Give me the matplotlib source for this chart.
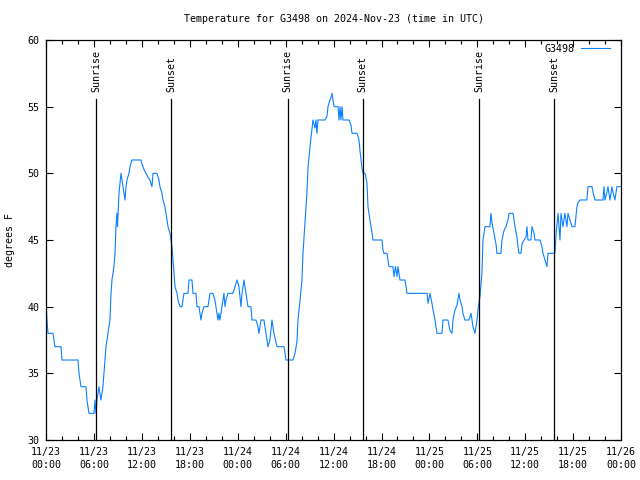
import matplotlib
matplotlib.use('Agg')
from matplotlib import pyplot as plt
import matplotlib.dates as mdates
import pandas as pd

# readings: hours after 2024-11-23 00:00 UTC, temperature in F
hours = [0.0, 0.09, 0.21, 0.84, 1.09, 1.84, 1.97, 3.97, 4.10, 4.35, 4.97, 5.10, 5.35, 5.98,
         6.10, 6.23, 6.35, 6.60, 6.85, 7.10, 7.23, 7.36, 7.48, 7.73, 7.98, 8.11, 8.23, 8.48,
         8.61, 8.73, 8.86, 8.92, 9.11, 9.36, 9.61, 9.73, 9.86, 9.99, 10.11, 10.36, 10.49,
         10.74, 11.86, 11.99, 12.24, 12.49, 12.74, 12.99, 13.12, 13.24, 13.37, 13.87, 14.12,
         14.24, 14.49, 14.62, 14.87, 15.12, 15.25, 15.50, 15.62, 15.75, 15.88, 16.00, 16.13,
         16.38, 16.50, 16.75, 17.00, 17.13, 17.25, 17.75, 17.88, 18.25, 18.38, 18.75, 18.88,
         19.13, 19.26, 19.38, 19.51, 19.76, 20.26, 20.51, 20.88, 21.13, 21.26, 21.51, 21.63,
         21.76, 22.01, 22.26, 22.39, 22.51, 22.76, 23.39, 23.64, 23.89, 24.14, 24.39, 24.52,
         24.77, 25.02, 25.27, 25.64, 25.77, 26.27, 26.52, 26.64, 26.77, 26.90, 27.27, 27.52,
         27.77, 28.02, 28.27, 28.52, 28.90, 29.78, 30.03, 30.91, 31.16, 31.41, 31.53, 31.78,
         32.03, 32.16, 32.41, 32.66, 32.79, 33.04, 33.29, 33.41, 33.66, 33.79, 33.91, 34.04,
         34.92, 35.17, 35.29, 35.48, 35.67, 35.80, 35.92, 36.05, 36.55, 36.67, 36.80, 36.92,
         37.05, 37.17, 37.93, 38.18, 38.30, 38.93, 39.18, 39.30, 39.55, 39.68, 39.93, 40.18,
         40.30, 40.55, 40.74, 40.93, 42.06, 42.18, 42.31, 42.68, 42.81, 42.93, 43.43, 43.56,
         43.75, 43.94, 44.06, 44.19, 44.31, 44.94, 45.19, 47.70, 47.82, 48.07, 48.32, 48.45,
         48.70, 48.95, 49.57, 49.70, 50.32, 50.58, 50.83, 50.95, 51.20, 51.45, 51.70, 51.83,
         52.08, 52.20, 52.45, 52.96, 53.21, 53.33, 53.46, 53.71, 53.96, 54.08, 54.33, 54.58,
         54.71, 54.83, 54.96, 55.58, 55.71, 55.84, 56.09, 56.34, 56.46, 56.96, 57.09, 57.34,
         57.59, 57.84, 57.97, 58.47, 58.72, 58.97, 59.09, 59.22, 59.47, 59.60, 59.85, 60.10,
         60.22, 60.35, 60.72, 60.85, 61.10, 61.22, 61.85, 62.10, 62.23, 62.48, 62.73, 62.85,
         63.73, 63.86, 64.11, 64.23, 64.36, 64.48, 64.73, 64.98, 65.23, 65.36, 65.61, 65.86,
         66.23, 66.48, 66.61, 66.86, 67.73, 67.86, 68.36, 68.49, 68.74, 69.74, 69.87, 69.99,
         70.24, 70.37, 70.62, 70.87, 70.99, 71.24, 71.49, 72.0]
temps = [40, 39, 38, 38, 37, 37, 36, 36, 35, 34, 34, 33, 32, 32,
         33, 32, 33, 34, 33, 34, 35, 36, 37, 38, 39, 41, 42, 43,
         44, 46, 47, 46, 48.5, 50, 49, 48.5, 48, 49, 49.5, 50, 50.5,
         51, 51, 50.7, 50.3, 50, 49.7, 49.5, 49.2, 49, 50, 50, 49.5,
         49, 48.5, 48, 47.5, 46.5, 46, 45.5, 45, 44.5, 43.5, 42.5, 41.5,
         41, 40.5, 40, 40, 40.5, 41, 41, 42, 42, 41, 41, 40,
         40, 39.5, 39, 39.5, 40, 40, 41, 41, 40.5, 40, 39, 39.5,
         39, 40, 41, 40, 40.5, 41, 41, 41.5, 42, 41.5, 40, 41,
         42, 41, 40, 40, 39, 39, 38.5, 38, 38.5, 39, 39, 38,
         37, 37.5, 39, 38, 37, 37, 36, 36, 36.5, 37.4, 39, 40.4,
         42, 44, 46.3, 48.6, 50.4, 52, 53.4, 54, 53.4, 54, 53, 54,
         54, 54.3, 55, 55.4, 55.7, 56, 55.5, 55, 55, 54, 55, 54,
         55, 54, 54, 53.6, 53, 53, 52.5, 51.7, 50.4, 50, 50, 49.25,
         47.5, 46.5, 45.8, 45, 45, 44.25, 44, 44, 43.5, 43, 43, 42.25,
         43, 42.25, 43, 42.5, 42, 42, 41, 41, 40.25, 41, 40.25, 39.75,
         39, 38, 38, 39, 39, 38.2, 38, 39, 39.75, 40.1, 41, 40.5,
         40, 39.5, 39, 39, 39.5, 39, 38.5, 38, 39, 39.75, 40.75, 42.5,
         45, 45.5, 46, 46, 47, 46.3, 45.5, 44.7, 44, 44, 45, 45.7,
         46, 46.5, 47, 47, 46, 45.2, 44.5, 44, 44, 44.7, 45, 45.2,
         46, 45, 45, 46, 45.5, 45, 45, 44.5, 44, 43.5, 43, 44,
         44, 45.4, 47, 46, 45, 47, 46, 47, 46, 47, 46.5, 46,
         46, 47.5, 47.8, 48, 48, 49, 49, 48.6, 48, 48, 49, 48,
         48.6, 49, 48, 49, 48.6, 48, 49, 49]

sunrise_hours = [6.25, 30.25, 54.25]
sunset_hours = [15.62, 39.62, 63.62]

start = pd.Timestamp('2024-11-23 00:00')
times = start + pd.to_timedelta(hours, unit='h')

plt.rcParams['font.family'] = 'DejaVu Sans Mono'
plt.rcParams['font.size'] = 7.2

fig = plt.figure(figsize=(6.4, 4.8), dpi=100)
ax = fig.add_axes([0.0723, 0.0833, 0.8980, 0.8334])

ax.plot(times, temps, color='#0a80ff', lw=0.8, label='G3498')

for h in sunrise_hours:
    t = start + pd.Timedelta(hours=h)
    ax.plot([t, t], [30, 55.6], color='black', lw=0.9)
    ax.text(t, 56.1, 'Sunrise', rotation=90, ha='center', va='bottom')
for h in sunset_hours:
    t = start + pd.Timedelta(hours=h)
    ax.plot([t, t], [30, 55.6], color='black', lw=0.9)
    ax.text(t, 56.1, 'Sunset', rotation=90, ha='center', va='bottom')

ax.set_xlim(start, start + pd.Timedelta(hours=72))
ax.set_ylim(30, 60)
ax.set_yticks(range(30, 61, 5))
ax.xaxis.set_major_locator(mdates.HourLocator(byhour=[0, 6, 12, 18]))
ax.xaxis.set_minor_locator(mdates.HourLocator(byhour=range(0, 24, 2)))
ax.xaxis.set_major_formatter(mdates.DateFormatter('%m/%d\n%H:%M'))
ax.tick_params(which='both', direction='in', top=True, right=True, width=0.8)
ax.tick_params(which='major', length=5, pad=5)
ax.tick_params(which='minor', length=3)
for lbl in ax.get_xticklabels():
    lbl.set_linespacing(1.4)
for s in ax.spines.values():
    s.set_linewidth(0.9)

ax.set_ylabel('degrees F', labelpad=9)
ax.set_title('Temperature for G3498 on 2024-Nov-23 (time in UTC)', fontsize=7.2, pad=13)
ax.legend(loc='upper right', frameon=False, markerfirst=False, handlelength=2.9,
          borderaxespad=0.2, handletextpad=0.6, bbox_to_anchor=(0.991, 1.005))

fig.savefig('out.png', dpi=100)
